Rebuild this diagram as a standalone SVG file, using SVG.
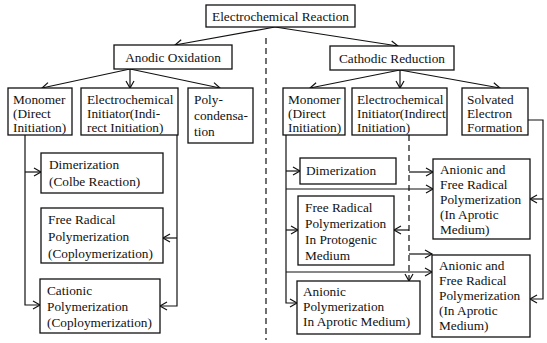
<svg xmlns="http://www.w3.org/2000/svg" width="547" height="343" viewBox="0 0 547 343">
<style>
.b{fill:#fff;stroke:#111;stroke-width:1.3}
text{font-family:"Liberation Serif","Times New Roman",serif;font-size:13.3px;fill:#111}
.c{text-anchor:middle}
.l{fill:none;stroke:#111;stroke-width:1.2}
.d{fill:none;stroke:#111;stroke-width:1.2;stroke-dasharray:6 4}
</style>
<defs>
<marker id="a" markerWidth="10" markerHeight="10" refX="8" refY="5" orient="auto" markerUnits="userSpaceOnUse">
<path d="M1,1 L8,5 L1,9" fill="none" stroke="#111" stroke-width="1.2"/>
</marker>
</defs>
<rect width="547" height="343" fill="#fff"/>
<g id="connectors">
<line class="d" x1="266" y1="38" x2="266" y2="340"/>
<line class="l" x1="275" y1="27" x2="175" y2="45" marker-end="url(#a)"/>
<line class="l" x1="275" y1="27" x2="398" y2="46" marker-end="url(#a)"/>
<line class="l" x1="130" y1="69" x2="42" y2="88" marker-end="url(#a)"/>
<line class="l" x1="130" y1="69" x2="130" y2="88" marker-end="url(#a)"/>
<line class="l" x1="130" y1="69" x2="220" y2="88" marker-end="url(#a)"/>
<line class="l" x1="400" y1="70" x2="310" y2="88" marker-end="url(#a)"/>
<line class="l" x1="400" y1="70" x2="400" y2="88" marker-end="url(#a)"/>
<line class="l" x1="400" y1="70" x2="500" y2="88" marker-end="url(#a)"/>
<polyline class="l" points="25,135 25,305 40,305" marker-end="url(#a)"/>
<line class="l" x1="25" y1="172" x2="41" y2="172" marker-end="url(#a)"/>
<polyline class="l" points="177,135 177,306 160,306" marker-end="url(#a)"/>
<line class="l" x1="177" y1="238" x2="163" y2="238" marker-end="url(#a)"/>
<polyline class="l" points="286,135 286,303 297,303" marker-end="url(#a)"/>
<line class="l" x1="286" y1="171" x2="300" y2="171" marker-end="url(#a)"/>
<line class="l" x1="286" y1="189" x2="433" y2="189" marker-end="url(#a)"/>
<line class="l" x1="286" y1="230" x2="298" y2="230" marker-end="url(#a)"/>
<line class="l" x1="286" y1="272" x2="432" y2="272" marker-end="url(#a)"/>
<line class="d" x1="409" y1="135" x2="409" y2="281" marker-end="url(#a)"/>
<line class="l" x1="409" y1="172" x2="433" y2="172" marker-end="url(#a)"/>
<line class="l" x1="409" y1="230" x2="394" y2="230" marker-end="url(#a)"/>
<line class="l" x1="409" y1="254" x2="432" y2="254" marker-end="url(#a)"/>
<polyline class="l" points="528,120 543,120 543,299 530,299" marker-end="url(#a)"/>
<line class="l" x1="543" y1="199" x2="530" y2="199" marker-end="url(#a)"/>
</g>
<g id="n-top"><rect class="b" x="206" y="5" width="149" height="22"/><text class="c" x="280.5" y="21">Electrochemical Reaction</text></g>
<g id="n-anodic"><rect class="b" x="114" y="45" width="118" height="24"/><text class="c" x="173" y="62">Anodic Oxidation</text></g>
<g id="n-cathodic"><rect class="b" x="330" y="46" width="124" height="24"/><text class="c" x="392" y="63">Cathodic Reduction</text></g>
<g id="n-lmono"><rect class="b" x="8" y="88" width="64" height="47"/><text x="13" y="104">Monomer</text><text x="13" y="118">(Direct</text><text x="13" y="132">Initiation)</text></g>
<g id="n-lelec"><rect class="b" x="81" y="88" width="97" height="47"/><text x="87" y="104">Electrochemical</text><text x="87" y="118">Initiator(Indi-</text><text x="87" y="132">rect Initiation)</text></g>
<g id="n-lpoly"><rect class="b" x="188" y="88" width="65" height="55"/><text x="194" y="104">Poly-</text><text x="194" y="120">condensa-</text><text x="194" y="136">tion</text></g>
<g id="n-ldimer"><rect class="b" x="41" y="153" width="122" height="40"/><text x="49" y="169">Dimerization</text><text x="49" y="186">(Colbe Reaction)</text></g>
<g id="n-lfree"><rect class="b" x="41" y="208" width="122" height="55"/><text x="48" y="224">Free Radical</text><text x="48" y="241">Polymerization</text><text x="48" y="258">(Coploymerization)</text></g>
<g id="n-lcation"><rect class="b" x="40" y="279" width="120" height="54"/><text x="47" y="295">Cationic</text><text x="47" y="311">Polymerization</text><text x="47" y="327">(Coploymerization)</text></g>
<g id="n-rmono"><rect class="b" x="283" y="88" width="62" height="47"/><text x="288" y="104">Monomer</text><text x="288" y="118">(Direct</text><text x="288" y="132">Initiation)</text></g>
<g id="n-relec"><rect class="b" x="352" y="88" width="95" height="47"/><text x="357" y="104">Electrochemical</text><text x="357" y="118">Initiator(Indirect</text><text x="357" y="132">Initiation)</text></g>
<g id="n-rsolv"><rect class="b" x="462" y="88" width="66" height="47"/><text x="467" y="104">Solvated</text><text x="467" y="118">Electron</text><text x="467" y="132">Formation</text></g>
<g id="n-rdimer"><rect class="b" x="300" y="158" width="96" height="26"/><text x="306" y="175">Dimerization</text></g>
<g id="n-rfree"><rect class="b" x="298" y="196" width="96" height="69"/><text x="305" y="212">Free Radical</text><text x="305" y="228">Polymerization</text><text x="305" y="244">In Protogenic</text><text x="305" y="260">Medium</text></g>
<g id="n-ranion"><rect class="b" x="297" y="281" width="123" height="53"/><text x="303" y="296">Anionic</text><text x="303" y="311">Polymerization</text><text x="303" y="326">In Aprotic Medium)</text></g>
<g id="n-rafr1"><rect class="b" x="433" y="159" width="97" height="80"/><text x="440" y="174">Anionic and</text><text x="440" y="189">Free Radical</text><text x="440" y="204">Polymerization</text><text x="440" y="219">(In Aprotic</text><text x="440" y="234">Medium)</text></g>
<g id="n-rafr2"><rect class="b" x="432" y="255" width="98" height="82"/><text x="439" y="270">Anionic and</text><text x="439" y="285">Free Radical</text><text x="439" y="300">Polymerization</text><text x="439" y="315">(In Aprotic</text><text x="439" y="330">Medium)</text></g>
</svg>
